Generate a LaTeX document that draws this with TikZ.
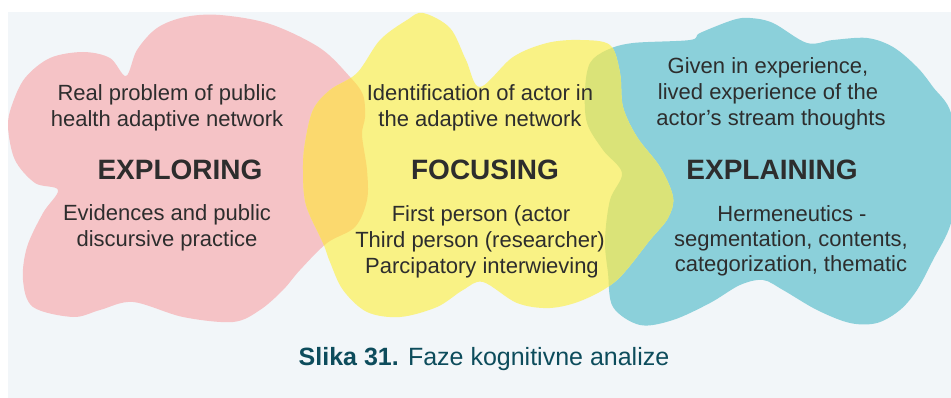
\documentclass[tikz,border=0pt]{standalone}
\usepackage{fontspec}
\setmainfont{Liberation Sans}
\definecolor{bgc}{RGB}{242,246,249}
\definecolor{pinkc}{RGB}{245,195,198}
\definecolor{yellowc}{RGB}{249,242,133}
\definecolor{orangec}{RGB}{251,217,110}
\definecolor{tealc}{RGB}{139,208,218}
\definecolor{greenc}{RGB}{218,227,120}
\definecolor{txt}{RGB}{45,45,45}
\definecolor{capc}{RGB}{13,76,92}
\newcommand\pinkpath{plot[smooth cycle, tension=0.55] coordinates {(126,76) (137,50) (157,28) (185,17) (220,15) (270,24) (320,48) (350,77) (363,95) (365,117) (362,135) (367,170) (367,200) (355,227) (327,243) (300,270) (283,290) (260,310) (233,322) (183,317) (133,302) (100,310) (73,317) (33,307) (23,280) (27,247) (43,213) (58,190) (35,183) (15,160) (8,127) (12,105) (25,78) (50,58) (83,52) (110,58)}}
\newcommand\yellowpath{plot[smooth cycle, tension=0.55] coordinates {(323,243) (306,205) (303,170) (305,143) (313,110) (330,90) (357,73) (380,40) (407,20) (423,13) (450,28) (466,60) (480,87) (513,57) (547,43) (580,40) (610,45) (620,73) (623,107) (637,137) (660,167) (673,197) (668,218) (650,240) (617,280) (583,300) (550,308) (517,303) (483,282) (463,290) (437,307) (400,317) (367,312) (343,290) (330,262)}}
\newcommand\tealpath{plot[smooth cycle, tension=0.55] coordinates {(613,307) (608,273) (605,240) (610,200) (622,173) (603,150) (587,123) (585,90) (590,63) (607,50) (633,43) (690,40) (700,33) (733,20) (750,18) (773,23) (807,43) (833,40) (867,38) (893,47) (917,67) (933,87) (951,113) (958,170) (951,223) (933,260) (917,290) (900,310) (877,323) (850,323) (817,310) (783,290) (763,280) (740,285) (710,303) (673,320) (640,325)}}
\begin{document}
\begin{tikzpicture}[x=1pt,y=-1pt,
  body/.style={anchor=base, text=txt, inner sep=0pt, font=\fontsize{22}{26}\selectfont},
  phase/.style={anchor=base, text=txt, inner sep=0pt, font=\fontsize{28}{32}\selectfont\bfseries},
  caption/.style={anchor=base, text=capc, inner sep=0pt, font=\fontsize{25}{30}\selectfont}]
\useasboundingbox (0,0) rectangle (951,398);
\fill[bgc] (8,12) rectangle (951,398);
\begin{scope}
\clip (8,12) rectangle (951,398);
\fill[pinkc] \pinkpath;
\fill[tealc] \tealpath;
\fill[yellowc] \yellowpath;
\begin{scope}
\clip \yellowpath;
\fill[orangec] \pinkpath;
\fill[greenc] \tealpath;
\end{scope}
\end{scope}
% Exploring
\node[body] (e1) at (167,101) {Real problem of public};
\node[body] (e2) at (167,127) {health adaptive network};
\node[phase] (e0) at (180,180) {EXPLORING};
\node[body] (e3) at (167,221) {Evidences and public};
\node[body] (e4) at (167,247) {discursive practice};
% Focusing
\node[body] (f1) at (480,101) {Identification of actor in};
\node[body] (f2) at (480,127) {the adaptive network};
\node[phase] (f0) at (485,180) {FOCUSING};
\node[body] (f3) at (481,222) {First person (actor};
\node[body] (f4) at (480,248) {Third person (researcher)};
\node[body] (f5) at (482,273) {Parcipatory interwieving};
% Explaining
\node[body] (x1) at (768,74) {Given in experience,};
\node[body] (x2) at (768,100) {lived experience of the};
\node[body] (x3) at (771,126) {actor’s stream thoughts};
\node[phase] (x0) at (772,180) {EXPLAINING};
\node[body] (x4) at (792,222) {Hermeneutics -};
\node[body] (x5) at (791,247) {segmentation, contents,};
\node[body] (x6) at (791,272) {categorization, thematic};
% caption
\node[caption] (cap) at (484,365) {\textbf{Slika 31.} Faze kognitivne analize};
\end{tikzpicture}
\end{document}
